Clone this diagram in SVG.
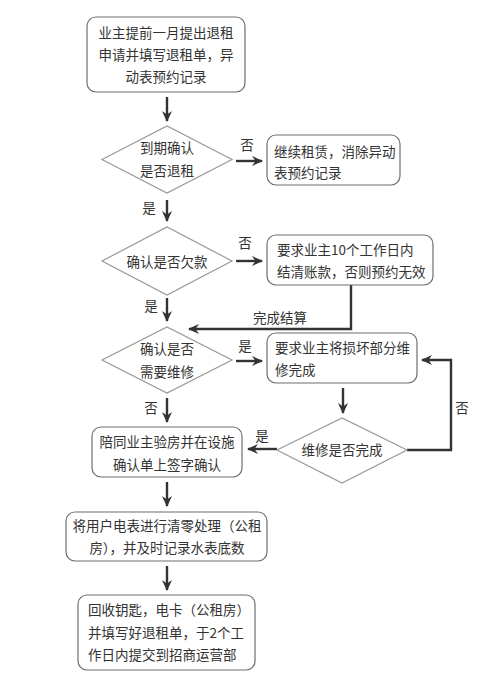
<svg xmlns="http://www.w3.org/2000/svg" width="500" height="692" viewBox="0 0 500 692">
<defs>
<marker id="ah" markerUnits="userSpaceOnUse" markerWidth="12" markerHeight="12" viewBox="0 0 12 12" refX="10" refY="6" orient="auto">
<path d="M0,1 L11,6 L0,11 L3.5,6 Z" fill="#333"/>
</marker>
<style>
text{font-family:"Noto Sans CJK SC","Liberation Sans",sans-serif;font-size:13.5px;fill:#333}
.c{text-anchor:middle}
.box{fill:#fff;stroke:#6e6e6e;stroke-width:1.2}
.dia{fill:#fff;stroke:#999;stroke-width:1.2}
.ln{fill:none;stroke:#333;stroke-width:2.4;marker-end:url(#ah)}
</style>
</defs>
<rect width="500" height="692" fill="#fff"/>
<g id="connectors">
<path class="ln" d="M167,97 V121"/>
<path class="ln" d="M236,161 H262"/>
<path class="ln" d="M167,200 V221"/>
<path class="ln" d="M236,261 H262"/>
<path class="ln" d="M167,298 V321"/>
<path class="ln" d="M351,285 V329 H189"/>
<path class="ln" d="M236,361 H262"/>
<path class="ln" d="M343,388 V413"/>
<path class="ln" d="M407,450 H451 V360 H422"/>
<path class="ln" d="M277,449 H248"/>
<path class="ln" d="M167,398 V422"/>
<path class="ln" d="M167,482 V506"/>
<path class="ln" d="M167,566 V590"/>
<text class="c" x="247" y="150">否</text>
<text class="c" x="149" y="213">是</text>
<text class="c" x="245" y="248">否</text>
<text class="c" x="151" y="311">是</text>
<text class="c" x="280" y="323">完成结算</text>
<text class="c" x="245" y="351">是</text>
<text class="c" x="462" y="413">否</text>
<text class="c" x="262" y="441">是</text>
<text class="c" x="151" y="413">否</text>
</g>
<g id="n1">
<rect class="box" x="87" y="17" width="158" height="75" rx="9"/>
<text class="c" x="166" y="38">业主提前一月提出退租</text>
<text class="c" x="166" y="60">申请并填写退租单，异</text>
<text class="c" x="166" y="82">动表预约记录</text>
</g>
<g id="d1">
<polygon class="dia" points="102,159.5 167,126 232,159.5 167,193"/>
<text class="c" x="167" y="153">到期确认</text>
<text class="c" x="167" y="176">是否退租</text>
</g>
<g id="n2">
<rect class="box" x="267" y="135" width="133" height="50" rx="9"/>
<text x="274" y="157">继续租赁，消除异动</text>
<text x="274" y="178">表预约记录</text>
</g>
<g id="d2">
<polygon class="dia" points="102,261 167,227 232,261 167,295"/>
<text class="c" x="167" y="267">确认是否欠款</text>
</g>
<g id="n3">
<rect class="box" x="267" y="235" width="166" height="50" rx="9"/>
<text x="277" y="255">要求业主10个工作日内</text>
<text x="277" y="277">结清账款，否则预约无效</text>
</g>
<g id="d3">
<polygon class="dia" points="102,360 167,327 232,360 167,393"/>
<text class="c" x="167" y="354">确认是否</text>
<text class="c" x="167" y="377">需要维修</text>
</g>
<g id="n4">
<rect class="box" x="267" y="333" width="150" height="50" rx="9"/>
<text x="275" y="353">要求业主将损坏部分维</text>
<text x="275" y="375">修完成</text>
</g>
<g id="d4">
<polygon class="dia" points="277,450 342,418 407,450 342,483"/>
<text class="c" x="342" y="455">维修是否完成</text>
</g>
<g id="n5">
<rect class="box" x="92" y="427" width="150" height="50" rx="9"/>
<text class="c" x="167" y="447">陪同业主验房并在设施</text>
<text class="c" x="167" y="470">确认单上签字确认</text>
</g>
<g id="n6">
<rect class="box" x="66" y="512" width="201" height="49" rx="9"/>
<text class="c" x="167" y="531">将用户电表进行清零处理（公租</text>
<text class="c" x="167" y="553">房），并及时记录水表底数</text>
</g>
<g id="n7">
<rect class="box" x="78" y="595" width="177" height="75" rx="9"/>
<text x="88" y="615">回收钥匙，电卡（公租房）</text>
<text x="88" y="638">并填写好退租单，于2个工</text>
<text x="88" y="660">作日内提交到招商运营部</text>
</g>
</svg>
